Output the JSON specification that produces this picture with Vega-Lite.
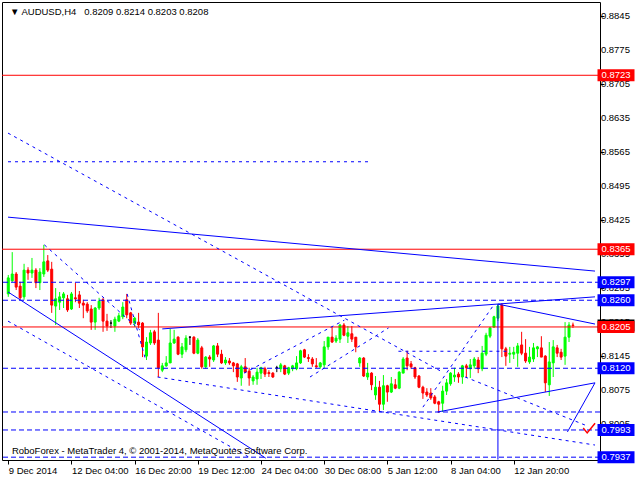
{
  "$schema": "https://vega.github.io/schema/vega-lite/v6.json",
  "width": 598,
  "height": 458,
  "autosize": {"type": "none"},
  "padding": {"left": 2, "top": 2, "right": 40, "bottom": 20},
  "background": "white",
  "config": {
    "view": {"stroke": "black", "strokeWidth": 1, "fill": "white"},
    "font": "Liberation Sans",
    "axisX": {
      "labelAlign": "left",
      "labelPadding": 1,
      "labelFont": "Liberation Sans",
      "labelFontSize": 9.5,
      "labelColor": "#000000",
      "tickColor": "#000000",
      "tickSize": 4,
      "domain": false,
      "grid": false,
      "labelOverlap": false,
      "labelFlush": false,
      "labelBound": false
    },
    "axisY": {
      "labels": false,
      "tickColor": "#000000",
      "tickSize": 4,
      "domain": false,
      "grid": false
    }
  },
  "datasets": {
    "bars": [
      {"i":0,"o":0.8273,"h":0.8312,"l":0.8267,"c":0.8306},
      {"i":1,"o":0.8300,"h":0.8359,"l":0.8298,"c":0.8314},
      {"i":2,"o":0.8314,"h":0.8318,"l":0.8281,"c":0.8287},
      {"i":3,"o":0.8289,"h":0.8298,"l":0.8261,"c":0.8265},
      {"i":4,"o":0.8267,"h":0.8335,"l":0.8261,"c":0.8322},
      {"i":5,"o":0.8322,"h":0.8328,"l":0.8302,"c":0.8316},
      {"i":6,"o":0.8316,"h":0.8347,"l":0.8306,"c":0.8322},
      {"i":7,"o":0.8322,"h":0.8326,"l":0.8285,"c":0.8296},
      {"i":8,"o":0.8296,"h":0.8326,"l":0.8281,"c":0.8318},
      {"i":9,"o":0.8314,"h":0.8374,"l":0.8308,"c":0.8339},
      {"i":10,"o":0.8341,"h":0.8353,"l":0.8318,"c":0.8322},
      {"i":11,"o":0.8324,"h":0.8339,"l":0.8234,"c":0.8250},
      {"i":12,"o":0.8248,"h":0.8285,"l":0.8209,"c":0.8263},
      {"i":13,"o":0.8256,"h":0.8277,"l":0.8240,"c":0.8267},
      {"i":14,"o":0.8265,"h":0.8277,"l":0.8244,"c":0.8273},
      {"i":15,"o":0.8263,"h":0.8271,"l":0.8236,"c":0.8240},
      {"i":16,"o":0.8242,"h":0.8277,"l":0.8240,"c":0.8273},
      {"i":17,"o":0.8265,"h":0.8296,"l":0.8256,"c":0.8263},
      {"i":18,"o":0.8271,"h":0.8279,"l":0.8244,"c":0.8254},
      {"i":19,"o":0.8254,"h":0.8261,"l":0.8223,"c":0.8250},
      {"i":20,"o":0.8252,"h":0.8256,"l":0.8234,"c":0.8238},
      {"i":21,"o":0.8242,"h":0.8250,"l":0.8199,"c":0.8215},
      {"i":22,"o":0.8215,"h":0.8246,"l":0.8199,"c":0.8244},
      {"i":23,"o":0.8244,"h":0.8265,"l":0.8240,"c":0.8258},
      {"i":24,"o":0.8261,"h":0.8265,"l":0.8195,"c":0.8217},
      {"i":25,"o":0.8217,"h":0.8232,"l":0.8197,"c":0.8207},
      {"i":26,"o":0.8213,"h":0.8219,"l":0.8203,"c":0.8213},
      {"i":27,"o":0.8207,"h":0.8226,"l":0.8195,"c":0.8221},
      {"i":28,"o":0.8217,"h":0.8234,"l":0.8215,"c":0.8228},
      {"i":29,"o":0.8226,"h":0.8256,"l":0.8221,"c":0.8246},
      {"i":30,"o":0.8261,"h":0.8273,"l":0.8223,"c":0.8230},
      {"i":31,"o":0.8234,"h":0.8236,"l":0.8209,"c":0.8213},
      {"i":32,"o":0.8213,"h":0.8226,"l":0.8205,"c":0.8223},
      {"i":33,"o":0.8215,"h":0.8234,"l":0.8203,"c":0.8209},
      {"i":34,"o":0.8213,"h":0.8215,"l":0.8143,"c":0.8164},
      {"i":35,"o":0.8145,"h":0.8184,"l":0.8137,"c":0.8174},
      {"i":36,"o":0.8172,"h":0.8199,"l":0.8168,"c":0.8193},
      {"i":37,"o":0.8195,"h":0.8199,"l":0.8168,"c":0.8172},
      {"i":38,"o":0.8178,"h":0.8234,"l":0.8102,"c":0.8121},
      {"i":39,"o":0.8116,"h":0.8131,"l":0.8112,"c":0.8125},
      {"i":40,"o":0.8125,"h":0.8145,"l":0.8123,"c":0.8131},
      {"i":41,"o":0.8131,"h":0.8201,"l":0.8131,"c":0.8172},
      {"i":42,"o":0.8172,"h":0.8199,"l":0.8170,"c":0.8180},
      {"i":43,"o":0.8184,"h":0.8186,"l":0.8147,"c":0.8149},
      {"i":44,"o":0.8149,"h":0.8172,"l":0.8141,"c":0.8164},
      {"i":45,"o":0.8158,"h":0.8188,"l":0.8153,"c":0.8182},
      {"i":46,"o":0.8184,"h":0.8186,"l":0.8168,"c":0.8184},
      {"i":47,"o":0.8184,"h":0.8186,"l":0.8149,"c":0.8151},
      {"i":48,"o":0.8151,"h":0.8182,"l":0.8149,"c":0.8178},
      {"i":49,"o":0.8162,"h":0.8166,"l":0.8119,"c":0.8123},
      {"i":50,"o":0.8123,"h":0.8145,"l":0.8119,"c":0.8143},
      {"i":51,"o":0.8143,"h":0.8147,"l":0.8123,"c":0.8139},
      {"i":52,"o":0.8137,"h":0.8168,"l":0.8133,"c":0.8166},
      {"i":53,"o":0.8166,"h":0.8172,"l":0.8143,"c":0.8149},
      {"i":54,"o":0.8149,"h":0.8158,"l":0.8129,"c":0.8131},
      {"i":55,"o":0.8131,"h":0.8143,"l":0.8127,"c":0.8137},
      {"i":56,"o":0.8135,"h":0.8141,"l":0.8127,"c":0.8131},
      {"i":57,"o":0.8131,"h":0.8133,"l":0.8112,"c":0.8125},
      {"i":58,"o":0.8129,"h":0.8131,"l":0.8092,"c":0.8102},
      {"i":59,"o":0.8100,"h":0.8127,"l":0.8084,"c":0.8123},
      {"i":60,"o":0.8123,"h":0.8141,"l":0.8110,"c":0.8112},
      {"i":61,"o":0.8114,"h":0.8121,"l":0.8084,"c":0.8100},
      {"i":62,"o":0.8094,"h":0.8106,"l":0.8086,"c":0.8102},
      {"i":63,"o":0.8098,"h":0.8121,"l":0.8086,"c":0.8112},
      {"i":64,"o":0.8110,"h":0.8123,"l":0.8098,"c":0.8121},
      {"i":65,"o":0.8119,"h":0.8123,"l":0.8102,"c":0.8108},
      {"i":66,"o":0.8111,"h":0.8116,"l":0.8102,"c":0.8109},
      {"i":67,"o":0.8110,"h":0.8112,"l":0.8100,"c":0.8102},
      {"i":68,"o":0.8121,"h":0.8125,"l":0.8112,"c":0.8121},
      {"i":69,"o":0.8119,"h":0.8131,"l":0.8112,"c":0.8127},
      {"i":70,"o":0.8125,"h":0.8127,"l":0.8106,"c":0.8108},
      {"i":71,"o":0.8110,"h":0.8123,"l":0.8106,"c":0.8121},
      {"i":72,"o":0.8119,"h":0.8127,"l":0.8114,"c":0.8125},
      {"i":73,"o":0.8119,"h":0.8145,"l":0.8116,"c":0.8131},
      {"i":74,"o":0.8131,"h":0.8158,"l":0.8129,"c":0.8156},
      {"i":75,"o":0.8158,"h":0.8160,"l":0.8141,"c":0.8143},
      {"i":76,"o":0.8142,"h":0.8149,"l":0.8133,"c":0.8140},
      {"i":77,"o":0.8139,"h":0.8143,"l":0.8123,"c":0.8129},
      {"i":78,"o":0.8125,"h":0.8141,"l":0.8121,"c":0.8123},
      {"i":79,"o":0.8123,"h":0.8133,"l":0.8119,"c":0.8131},
      {"i":80,"o":0.8127,"h":0.8176,"l":0.8121,"c":0.8164},
      {"i":81,"o":0.8164,"h":0.8184,"l":0.8158,"c":0.8184},
      {"i":82,"o":0.8184,"h":0.8205,"l":0.8172,"c":0.8174},
      {"i":83,"o":0.8176,"h":0.8188,"l":0.8172,"c":0.8182},
      {"i":84,"o":0.8180,"h":0.8211,"l":0.8172,"c":0.8209},
      {"i":85,"o":0.8209,"h":0.8213,"l":0.8186,"c":0.8188},
      {"i":86,"o":0.8186,"h":0.8207,"l":0.8172,"c":0.8193},
      {"i":87,"o":0.8191,"h":0.8207,"l":0.8174,"c":0.8180},
      {"i":88,"o":0.8184,"h":0.8184,"l":0.8153,"c":0.8164},
      {"i":89,"o":0.8131,"h":0.8143,"l":0.8123,"c":0.8141},
      {"i":90,"o":0.8141,"h":0.8143,"l":0.8102,"c":0.8104},
      {"i":91,"o":0.8102,"h":0.8131,"l":0.8096,"c":0.8110},
      {"i":92,"o":0.8110,"h":0.8112,"l":0.8075,"c":0.8086},
      {"i":93,"o":0.8065,"h":0.8104,"l":0.8055,"c":0.8081},
      {"i":94,"o":0.8081,"h":0.8094,"l":0.8032,"c":0.8046},
      {"i":95,"o":0.8046,"h":0.8106,"l":0.8034,"c":0.8084},
      {"i":96,"o":0.8084,"h":0.8086,"l":0.8051,"c":0.8071},
      {"i":97,"o":0.8071,"h":0.8102,"l":0.8069,"c":0.8088},
      {"i":98,"o":0.8086,"h":0.8098,"l":0.8077,"c":0.8079},
      {"i":99,"o":0.8079,"h":0.8114,"l":0.8077,"c":0.8112},
      {"i":100,"o":0.8110,"h":0.8143,"l":0.8110,"c":0.8139},
      {"i":101,"o":0.8141,"h":0.8156,"l":0.8116,"c":0.8125},
      {"i":102,"o":0.8129,"h":0.8135,"l":0.8119,"c":0.8123},
      {"i":103,"o":0.8121,"h":0.8123,"l":0.8098,"c":0.8102},
      {"i":104,"o":0.8104,"h":0.8106,"l":0.8079,"c":0.8081},
      {"i":105,"o":0.8081,"h":0.8084,"l":0.8057,"c":0.8069},
      {"i":106,"o":0.8071,"h":0.8079,"l":0.8061,"c":0.8065},
      {"i":107,"o":0.8069,"h":0.8079,"l":0.8055,"c":0.8059},
      {"i":108,"o":0.8061,"h":0.8065,"l":0.8046,"c":0.8048},
      {"i":109,"o":0.8051,"h":0.8053,"l":0.8028,"c":0.8046},
      {"i":110,"o":0.8048,"h":0.8084,"l":0.8030,"c":0.8073},
      {"i":111,"o":0.8073,"h":0.8098,"l":0.8065,"c":0.8090},
      {"i":112,"o":0.8088,"h":0.8112,"l":0.8084,"c":0.8110},
      {"i":113,"o":0.8102,"h":0.8121,"l":0.8092,"c":0.8106},
      {"i":114,"o":0.8108,"h":0.8112,"l":0.8090,"c":0.8102},
      {"i":115,"o":0.8102,"h":0.8127,"l":0.8088,"c":0.8125},
      {"i":116,"o":0.8125,"h":0.8129,"l":0.8100,"c":0.8121},
      {"i":117,"o":0.8119,"h":0.8139,"l":0.8100,"c":0.8127},
      {"i":118,"o":0.8125,"h":0.8143,"l":0.8119,"c":0.8139},
      {"i":119,"o":0.8137,"h":0.8143,"l":0.8110,"c":0.8119},
      {"i":120,"o":0.8119,"h":0.8166,"l":0.8114,"c":0.8151},
      {"i":121,"o":0.8149,"h":0.8193,"l":0.8145,"c":0.8188},
      {"i":122,"o":0.8186,"h":0.8205,"l":0.8182,"c":0.8203},
      {"i":123,"o":0.8205,"h":0.8228,"l":0.8203,"c":0.8226},
      {"i":124,"o":0.8223,"h":0.8252,"l":0.8217,"c":0.8248},
      {"i":125,"o":0.8250,"h":0.8254,"l":0.8143,"c":0.8160},
      {"i":126,"o":0.8160,"h":0.8164,"l":0.8125,"c":0.8145},
      {"i":127,"o":0.8149,"h":0.8164,"l":0.8131,"c":0.8151},
      {"i":128,"o":0.8149,"h":0.8164,"l":0.8139,"c":0.8153},
      {"i":129,"o":0.8151,"h":0.8172,"l":0.8123,"c":0.8166},
      {"i":130,"o":0.8168,"h":0.8195,"l":0.8147,"c":0.8151},
      {"i":131,"o":0.8151,"h":0.8180,"l":0.8131,"c":0.8135},
      {"i":132,"o":0.8133,"h":0.8164,"l":0.8129,"c":0.8143},
      {"i":133,"o":0.8139,"h":0.8172,"l":0.8133,"c":0.8162},
      {"i":134,"o":0.8160,"h":0.8166,"l":0.8143,"c":0.8164},
      {"i":135,"o":0.8162,"h":0.8186,"l":0.8143,"c":0.8143},
      {"i":136,"o":0.8145,"h":0.8147,"l":0.8071,"c":0.8090},
      {"i":137,"o":0.8086,"h":0.8174,"l":0.8063,"c":0.8133},
      {"i":138,"o":0.8131,"h":0.8178,"l":0.8102,"c":0.8164},
      {"i":139,"o":0.8162,"h":0.8168,"l":0.8143,"c":0.8151},
      {"i":140,"o":0.8153,"h":0.8160,"l":0.8137,"c":0.8143},
      {"i":141,"o":0.8145,"h":0.8215,"l":0.8127,"c":0.8184},
      {"i":142,"o":0.8184,"h":0.8215,"l":0.8174,"c":0.8209},
      {"i":143,"o":0.8209,"h":0.8214,"l":0.8203,"c":0.8208}
    ],
    "yticks": [
      {"v":0.8005},{"v":0.8075},{"v":0.8145},{"v":0.8215},{"v":0.8285},{"v":0.8355},{"v":0.8425},
      {"v":0.8495},{"v":0.8565},{"v":0.8635},{"v":0.8705},{"v":0.8775},{"v":0.8845}
    ],
    "redLevels": [{"p":0.8723},{"p":0.8365},{"p":0.8205}],
    "blueLevels": [{"p":0.8297},{"p":0.8260},{"p":0.8120},{"p":0.8030},{"p":0.7993},{"p":0.7937}],
    "solidLines": [
      {"x1":-0.07,"p1":0.8431,"x2":148.58,"p2":0.8320},
      {"x1":-0.07,"p1":0.8277,"x2":65.2,"p2":0.7935},
      {"x1":39.0,"p1":0.8201,"x2":148.58,"p2":0.8267},
      {"x1":124,"p1":0.8252,"x2":148.58,"p2":0.8211},
      {"x1":124,"p1":0.8252,"x2":124,"p2":0.7932},
      {"x1":108.7,"p1":0.8030,"x2":148.58,"p2":0.8090},
      {"x1":141.6,"p1":0.7989,"x2":148.58,"p2":0.8090}
    ],
    "dashLines": [
      {"x1":-0.07,"p1":0.8604,"x2":110.0,"p2":0.8112},
      {"x1":-0.07,"p1":0.8217,"x2":61.4,"p2":0.7935},
      {"x1":37.8,"p1":0.8102,"x2":148.58,"p2":0.7962},
      {"x1":9.14,"p1":0.8374,"x2":33.3,"p2":0.8199},
      {"x1":30.1,"p1":0.8273,"x2":34.8,"p2":0.8137},
      {"x1":59.7,"p1":0.8110,"x2":85.1,"p2":0.8219},
      {"x1":76.4,"p1":0.8102,"x2":96.3,"p2":0.8203},
      {"x1":105.0,"p1":0.8040,"x2":122.9,"p2":0.8250},
      {"x1":115.7,"p1":0.8102,"x2":146.1,"p2":0.8003},
      {"x1":-0.07,"p1":0.8545,"x2":91.3,"p2":0.8545},
      {"x1":98.8,"p1":0.8155,"x2":126.2,"p2":0.8155}
    ],
    "check": [
      {"n":1,"x":145.6,"p":0.7997},
      {"n":2,"x":146.6,"p":0.7987},
      {"n":3,"x":148.6,"p":0.8007}
    ],
    "tags": [
      {"p":0.8208,"k":"bid"},
      {"p":0.8723,"k":"res"},
      {"p":0.8365,"k":"res"},
      {"p":0.8205,"k":"res"},
      {"p":0.8297,"k":"sup"},
      {"p":0.8260,"k":"sup"},
      {"p":0.8120,"k":"sup"},
      {"p":0.7993,"k":"sup"},
      {"p":0.7937,"k":"sup"}
    ]
  },
  "layer": [
    {
      "data": {"name": "bars"},
      "mark": {"type": "rule", "strokeWidth": 1},
      "encoding": {
        "x": {
          "field": "i", "type": "quantitative", "title": null,
          "scale": {"domain": [-0.324, 148.58], "nice": false, "zero": false},
          "axis": {
            "orient": "bottom",
            "title": null,
            "labelOverlap": false,
            "values": [0, 16, 32, 48, 64, 80, 96, 112, 128],
            "labelExpr": "['9 Dec 2014','12 Dec 04:00','16 Dec 20:00','19 Dec 12:00','24 Dec 04:00','30 Dec 08:00','5 Jan 12:00','8 Jan 04:00','12 Jan 20:00'][round(datum.value/16)]"
          }
        },
        "y": {
          "field": "l", "type": "quantitative", "title": null,
          "scale": {"domain": [0.79312, 0.88738], "nice": false, "zero": false},
          "axis": {
            "orient": "right",
            "title": null,
            "labels": false,
            "values": [0.8005, 0.8075, 0.8145, 0.8215, 0.8285, 0.8355, 0.8425, 0.8495, 0.8565, 0.8635, 0.8705, 0.8775, 0.8845]
          }
        },
        "y2": {"field": "h"},
        "color": {
          "condition": [
            {"test": "datum.c > datum.o", "value": "#00FF00"},
            {"test": "datum.c < datum.o", "value": "#FF0000"}
          ],
          "value": "#000000"
        }
      }
    },
    {
      "data": {"name": "bars"},
      "mark": {"type": "bar", "size": 2, "strokeWidth": 1},
      "encoding": {
        "x": {"field": "i", "type": "quantitative", "title": null},
        "y": {"field": "o", "type": "quantitative", "title": null},
        "y2": {"field": "c"},
        "fill": {
          "condition": [
            {"test": "datum.c > datum.o", "value": "#00FF00"},
            {"test": "datum.c < datum.o", "value": "#FF0000"}
          ],
          "value": "#000000"
        },
        "stroke": {
          "condition": [
            {"test": "datum.c > datum.o", "value": "#00FF00"},
            {"test": "datum.c < datum.o", "value": "#FF0000"}
          ],
          "value": "#000000"
        }
      }
    },
    {
      "data": {"name": "redLevels"},
      "mark": {"type": "rule", "color": "#FF0000", "strokeWidth": 1},
      "encoding": {
        "y": {"field": "p", "type": "quantitative", "title": null}
      }
    },
    {
      "data": {"name": "blueLevels"},
      "mark": {"type": "rule", "color": "#0000FF", "strokeWidth": 1, "strokeDash": [5, 3]},
      "encoding": {
        "y": {"field": "p", "type": "quantitative", "title": null}
      }
    },
    {
      "data": {"name": "solidLines"},
      "mark": {"type": "rule", "color": "#0000FF", "strokeWidth": 1},
      "encoding": {
        "x": {"field": "x1", "type": "quantitative", "title": null},
        "x2": {"field": "x2"},
        "y": {"field": "p1", "type": "quantitative", "title": null},
        "y2": {"field": "p2"}
      }
    },
    {
      "data": {"name": "dashLines"},
      "mark": {"type": "rule", "color": "#0000FF", "strokeWidth": 1, "strokeDash": [3, 4]},
      "encoding": {
        "x": {"field": "x1", "type": "quantitative", "title": null},
        "x2": {"field": "x2"},
        "y": {"field": "p1", "type": "quantitative", "title": null},
        "y2": {"field": "p2"}
      }
    },
    {
      "data": {"name": "check"},
      "mark": {"type": "line", "color": "#FF0000", "strokeWidth": 1.5},
      "encoding": {
        "x": {"field": "x", "type": "quantitative", "title": null},
        "y": {"field": "p", "type": "quantitative", "title": null},
        "order": {"field": "n"}
      }
    },
    {
      "data": {"name": "yticks"},
      "mark": {"type": "text", "color": "#000000", "font": "Liberation Sans", "fontSize": 9.5, "align": "left", "baseline": "middle"},
      "encoding": {
        "x": {"datum": 150.07, "type": "quantitative", "title": null},
        "y": {"field": "v", "type": "quantitative", "title": null},
        "text": {"field": "v", "type": "quantitative", "format": ".4f"}
      }
    },
    {
      "data": {"name": "tags"},
      "mark": {"type": "point", "filled": true, "opacity": 1, "shape": "M-1,-0.3243H1V0.3243H-1Z", "size": 1369, "strokeWidth": 0},
      "encoding": {
        "x": {"datum": 153.9, "type": "quantitative", "title": null},
        "y": {"field": "p", "type": "quantitative", "title": null},
        "fill": {"field": "k", "type": "nominal", "scale": {"domain": ["bid", "res", "sup"], "range": ["#000000", "#FF0000", "#0000FF"]}, "legend": null}
      }
    },
    {
      "data": {"name": "tags"},
      "transform": [{"filter": "datum.k != 'bid'"}],
      "mark": {"type": "text", "color": "#FFFFFF", "font": "Liberation Sans", "fontSize": 9.5, "align": "center", "baseline": "middle"},
      "encoding": {
        "x": {"datum": 153.9, "type": "quantitative", "title": null},
        "y": {"field": "p", "type": "quantitative", "title": null},
        "text": {"field": "p", "type": "quantitative", "format": ".4f"}
      }
    },
    {
      "data": {"values": [{}]},
      "mark": {"type": "text", "text": "▼ AUDUSD,H4\u00a0\u00a0 0.8209 0.8214 0.8203 0.8208", "color": "#000000", "font": "Liberation Sans", "fontSize": 9.5, "align": "left", "baseline": "middle"},
      "encoding": {
        "x": {"datum": 0.42, "type": "quantitative", "title": null},
        "y": {"datum": 0.88532, "type": "quantitative", "title": null}
      }
    },
    {
      "data": {"values": [{}]},
      "mark": {"type": "text", "text": "RoboForex - MetaTrader 4, © 2001-2014, MetaQuotes Software Corp.", "color": "#000000", "font": "Liberation Sans", "fontSize": 9.5, "align": "left", "baseline": "middle"},
      "encoding": {
        "x": {"datum": 0.92, "type": "quantitative", "title": null},
        "y": {"datum": 0.79497, "type": "quantitative", "title": null}
      }
    }
  ]
}
